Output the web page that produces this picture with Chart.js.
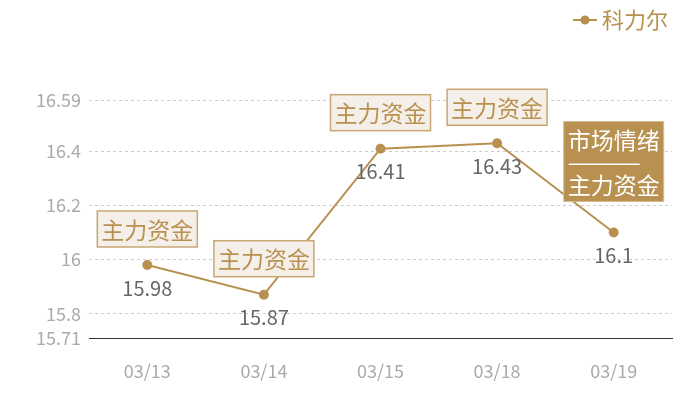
<!DOCTYPE html>
<html>
<head>
<meta charset="utf-8">
<script src="https://cdn.jsdelivr.net/npm/chart.js@4"></script>
<style>
html,body{margin:0;padding:0;background:#fff;}
#wrap{width:700px;height:400px;position:relative;}
</style>
</head>
<body>
<div id="wrap"><canvas id="c" width="700" height="400"></canvas></div>
<script>
const categories = ['03/13', '03/14', '03/15', '03/18', '03/19'];
const seriesName = '科力尔';
const values = [15.98, 15.87, 16.41, 16.43, 16.1];
const yTicks = [15.71, 15.8, 16, 16.2, 16.4, 16.59];
const tags = [['主力资金'], ['主力资金'], ['主力资金'], ['主力资金'], ['市场情绪', '主力资金']];

const GOLD = '#b8904f';
const FONT = '"Noto Sans CJK SC", "Noto Sans", sans-serif';

const overlay = {
  id: 'overlay',
  afterDatasetsDraw(chart) {
    const ctx = chart.ctx;
    const meta = chart.getDatasetMeta(0);
    ctx.save();
    meta.data.forEach((pt, i) => {
      const x = pt.x, y = pt.y;
      // value label
      ctx.font = '20px ' + FONT;
      ctx.fillStyle = '#666666';
      ctx.textAlign = 'center';
      ctx.textBaseline = 'middle';
      ctx.fillText(String(values[i]), x, y + 23);
      // tag box
      const lines = tags[i];
      ctx.font = '23px ' + FONT;
      const w = 100;
      if (lines.length === 1) {
        const h = 36;
        const bx = x - w / 2, by = y - 18 - h;
        ctx.fillStyle = '#f4efe8';
        ctx.fillRect(bx, by, w, h);
        ctx.strokeStyle = '#c9a775';
        ctx.lineWidth = 1.5;
        ctx.strokeRect(bx, by, w, h);
        ctx.fillStyle = GOLD;
        ctx.fillText(lines[0], x, by + h / 2 + 1);
      } else {
        const h = 80;
        const bx = x - w / 2, by = y - 31 - h;
        ctx.fillStyle = GOLD;
        ctx.fillRect(bx, by, w, h);
        ctx.strokeStyle = '#d7bd90';
        ctx.lineWidth = 1;
        ctx.strokeRect(bx, by, w, h);
        ctx.fillStyle = '#ffffff';
        ctx.fillText(lines[0], x, by + 19);
        ctx.fillRect(x - 45, by + 42, 71, 1.5);
        ctx.fillText(lines[1], x, by + 64);
      }
    });
    // legend
    ctx.strokeStyle = GOLD;
    ctx.lineWidth = 2;
    ctx.beginPath();
    ctx.moveTo(573, 20); ctx.lineTo(597, 20);
    ctx.stroke();
    ctx.fillStyle = GOLD;
    ctx.beginPath();
    ctx.arc(585, 20, 4.5, 0, Math.PI * 2);
    ctx.fill();
    ctx.font = '22px ' + FONT;
    ctx.textAlign = 'left';
    ctx.textBaseline = 'middle';
    ctx.fillText(seriesName, 602, 20);
    ctx.restore();
  }
};

new Chart(document.getElementById('c'), {
  type: 'line',
  data: {
    labels: categories,
    datasets: [{
      label: seriesName,
      data: values,
      borderColor: GOLD,
      backgroundColor: GOLD,
      borderWidth: 2,
      pointRadius: 4,
      pointHoverRadius: 4,
      tension: 0
    }]
  },
  options: {
    responsive: false,
    animation: false,
    events: [],
    layout: { padding: { top: 100, right: 28, bottom: 0, left: 0 } },
    plugins: { legend: { display: false }, tooltip: { enabled: false } },
    scales: {
      x: {
        offset: true,
        grid: { display: false, drawTicks: false },
        border: { display: true, color: '#333333', width: 1 },
        ticks: { color: '#aaaaaa', font: { size: 18, family: FONT }, padding: 22 },
        afterFit(s) { s.height = 62; }
      },
      y: {
        min: 15.71,
        max: 16.59,
        afterBuildTicks(s) { s.ticks = yTicks.map(v => ({ value: v })); },
        grid: { color: '#cccccc', drawTicks: false, lineWidth: 1 },
        border: { display: false, dash: [3, 3] },
        ticks: {
          color: '#aaaaaa',
          font: { size: 18, family: FONT },
          padding: 8,
          callback: v => String(v)
        },
        afterFit(s) { s.width = 89; }
      }
    }
  },
  plugins: [overlay]
});
</script>
</body>
</html>
